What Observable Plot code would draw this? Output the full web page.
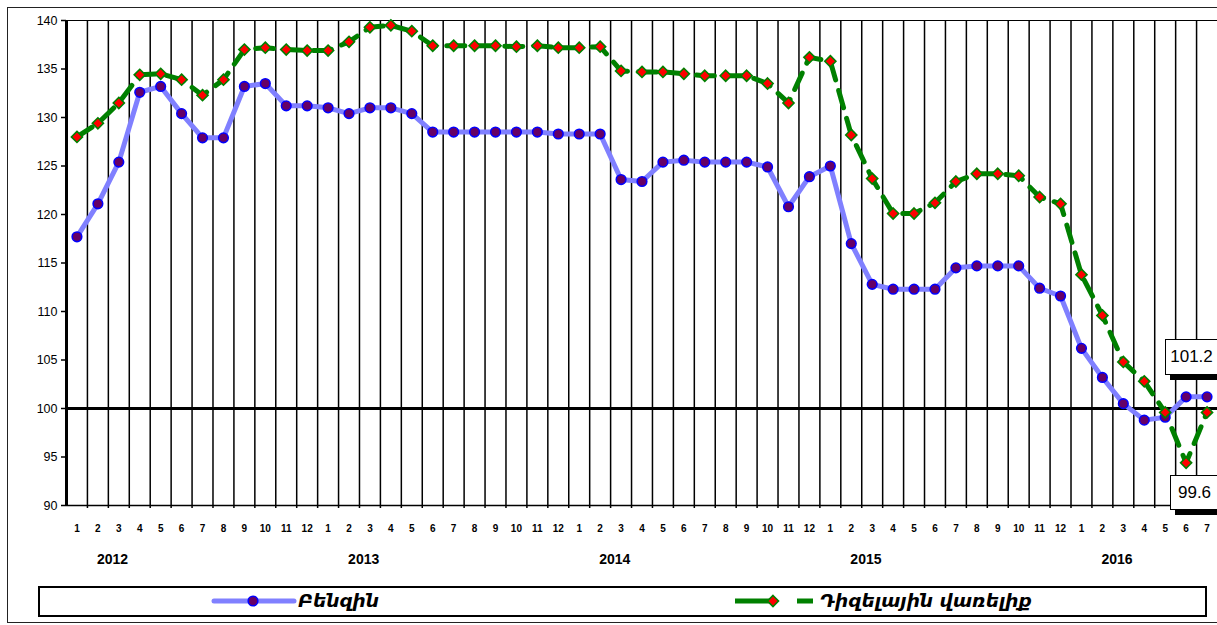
<!DOCTYPE html>
<html>
<head>
<meta charset="utf-8">
<script src="https://cdn.jsdelivr.net/npm/d3@7"></script>
<script src="https://cdn.jsdelivr.net/npm/@observablehq/plot@0.6"></script>
<style>
  html, body { margin: 0; padding: 0; background: #fff; }
  #wrap { position: relative; width: 1217px; height: 625px; overflow: hidden; font-family: "Liberation Sans", Arial, sans-serif; color: #000; }
  #frame { position: absolute; left: 7px; top: 7px; width: 1215px; height: 616px; border: 1.5px solid #222; box-sizing: border-box; }
  #chart { position: absolute; left: 0; top: 0; }
  .vlabel { position: absolute; background: #fff; border: 1.5px solid #000; box-sizing: border-box; box-shadow: 5px 5px 0 #000; font-size: 17px; display: flex; align-items: center; justify-content: center; }
  #legend { position: absolute; left: 38px; top: 586px; width: 1169px; height: 31px; border: 2px solid #000; box-sizing: border-box; background: #fff; }
  .ltext { position: absolute; top: 587px; height: 28px; line-height: 28px; font-family: "DejaVu Sans", sans-serif; font-style: italic; font-weight: bold; font-size: 18.5px; white-space: nowrap; }
  .lsym { position: absolute; }
</style>
</head>
<body>
<div id="wrap">
  <div id="frame"></div>
  <div id="chart"></div>
</div>
<script>
// ---- Data ----
const monthNumbers = [1,2,3,4,5,6,7,8,9,10,11,12,
                      1,2,3,4,5,6,7,8,9,10,11,12,
                      1,2,3,4,5,6,7,8,9,10,11,12,
                      1,2,3,4,5,6,7,8,9,10,11,12,
                      1,2,3,4,5,6,7];
const years = [2012, 2013, 2014, 2015, 2016];
const seriesNames = ["Բենզին", "Դիզելային վառելիք"];
const petrol = [117.7,121.1,125.4,132.6,133.2,130.4,127.9,127.9,133.2,133.5,131.2,131.2,
                131.0,130.4,131.0,131.0,130.4,128.5,128.5,128.5,128.5,128.5,128.5,128.3,
                128.3,128.3,123.6,123.4,125.4,125.6,125.4,125.4,125.4,124.9,120.8,123.9,
                125.0,117.0,112.8,112.3,112.3,112.3,114.5,114.7,114.7,114.7,112.4,111.6,
                106.2,103.2,100.5,98.8,99.1,101.2,101.2];
const diesel = [128.0,129.4,131.5,134.4,134.5,133.9,132.3,133.9,137.0,137.2,137.0,136.9,
                136.9,137.8,139.3,139.5,138.9,137.4,137.4,137.4,137.4,137.3,137.4,137.2,
                137.2,137.3,134.8,134.7,134.7,134.5,134.3,134.3,134.3,133.5,131.5,136.2,
                135.8,128.2,123.7,120.1,120.1,121.2,123.4,124.2,124.2,124.0,121.8,121.1,
                113.8,109.6,104.8,102.8,99.6,94.4,99.6];
const yTicks = [90, 95, 100, 105, 110, 115, 120, 125, 130, 135, 140];
const baseline = 100;

// ---- Build ----
const n = monthNumbers.length;
const idx = d3.range(n);
const dataP = idx.map(i => ({i, v: petrol[i]}));
const dataD = idx.map(i => ({i, v: diesel[i]}));
const yearStarts = [];
idx.forEach(i => { if (monthNumbers[i] === 1) yearStarts.push({i, year: years[yearStarts.length]}); });

const chart = Plot.plot({
  width: 1217,
  height: 580,
  marginLeft: 66,
  marginRight: 0,
  marginTop: 20,
  marginBottom: 75,
  x: {domain: [-0.5, n - 0.5], axis: null},
  y: {domain: [yTicks[0], yTicks[yTicks.length - 1]], axis: null, label: null},
  style: {background: "transparent", fontFamily: "'Liberation Sans', Arial, sans-serif", overflow: "visible", color: "#000"},
  marks: [
    Plot.ruleX(idx.slice(0, -1), {x: i => i + 0.5, stroke: "#000", strokeWidth: 1.5, insetBottom: -3}),
    Plot.ruleY([yTicks[yTicks.length - 1]], {stroke: "#000", strokeWidth: 1.2}),
    Plot.ruleY([yTicks[0]], {stroke: "#000", strokeWidth: 1.5}),
    Plot.ruleY([baseline], {stroke: "#000", strokeWidth: 3}),
    Plot.ruleX([-0.5], {stroke: "#000", strokeWidth: 3}),
    Plot.axisY({ticks: yTicks, tickSize: 5, tickPadding: 4, fontSize: 12.5, anchor: "left", strokeWidth: 1.5, label: null}),
    Plot.line(dataD, {x: "i", y: "v", stroke: "#008000", strokeWidth: 5, strokeDasharray: "18,11"}),
    Plot.line(dataP, {x: "i", y: "v", stroke: "#8080ff", strokeWidth: 5, strokeLinejoin: "round"}),
    Plot.dot(dataP, {x: "i", y: "v", r: 4.8, fill: "#660066", stroke: "#0000ff", strokeWidth: 1.6}),
    Plot.dot(dataD, {x: "i", y: "v", symbol: "diamond2", r: 5, fill: "#ff0000", stroke: "#008000", strokeWidth: 1.6}),
    Plot.text(idx, {x: i => i, text: i => String(monthNumbers[i]), frameAnchor: "bottom", dy: 26, fontSize: 10, fontWeight: "bold"}),
    Plot.text(yearStarts, {x: d => d.i + 1.7, text: d => String(d.year), frameAnchor: "bottom", dy: 58, fontSize: 14, fontWeight: "bold"})
  ]
});
document.getElementById("chart").appendChild(chart);

const wrap = document.getElementById("wrap");
const sx = chart.scale("x"), sy = chart.scale("y");

// value labels for the last points
function valueLabel(value, cx, cy, w, h) {
  const d = document.createElement("div");
  d.className = "vlabel";
  d.style.left = (cx - w / 2) + "px";
  d.style.top = (cy - h / 2) + "px";
  d.style.width = w + "px";
  d.style.height = h + "px";
  d.textContent = value.toFixed(1);
  wrap.appendChild(d);
}
const lx = sx.apply(n - 1), pY = sy.apply(petrol[n - 1]), dY = sy.apply(diesel[n - 1]);
valueLabel(petrol[n - 1], lx - 15, pY - 39, 54, 36);
valueLabel(diesel[n - 1], lx - 12, dY + 81, 50, 35);

// legend
const lg = document.createElement("div");
lg.id = "legend";
wrap.appendChild(lg);
const ns = "http://www.w3.org/2000/svg";
function sym(left, html) {
  const s = document.createElementNS(ns, "svg");
  s.setAttribute("class", "lsym");
  s.setAttribute("width", 90); s.setAttribute("height", 16);
  s.style.left = left + "px"; s.style.top = "593px";
  s.innerHTML = html;
  wrap.appendChild(s);
}
sym(211, '<line x1="3" y1="8" x2="83" y2="8" stroke="#8080ff" stroke-width="5" stroke-linecap="round"/>' +
         '<circle cx="42" cy="8" r="4.8" fill="#660066" stroke="#0000ff" stroke-width="1.6"/>');
sym(733, '<line x1="2" y1="8" x2="80" y2="8" stroke="#008000" stroke-width="5" stroke-dasharray="37,25,14,0"/>' +
         '<path d="M40,2.5 L45.5,8 L40,13.5 L34.5,8 Z" fill="#ff0000" stroke="#008000" stroke-width="1.6"/>');
function ltext(left, t) {
  const d = document.createElement("div");
  d.className = "ltext";
  d.style.left = left + "px";
  d.textContent = t;
  wrap.appendChild(d);
}
ltext(298, seriesNames[0]);
ltext(820, seriesNames[1]);
</script>
</body>
</html>
